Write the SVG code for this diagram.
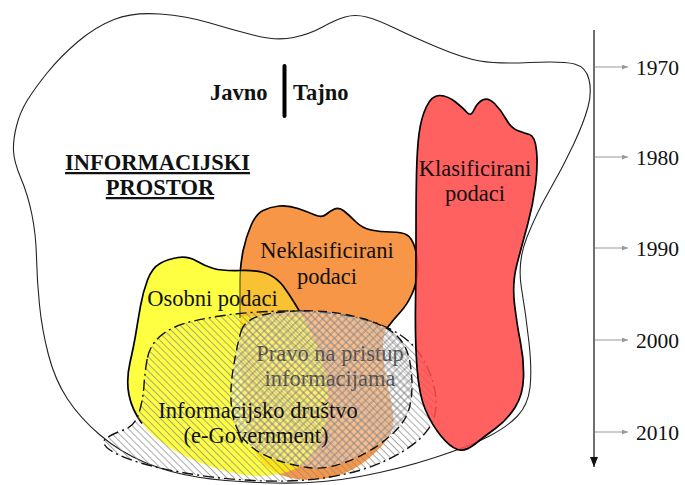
<svg xmlns="http://www.w3.org/2000/svg" width="685" height="485" viewBox="0 0 685 485">
<style>
  .lbl{font-family:"Liberation Serif","Times New Roman",serif;font-size:22.5px;fill:#111;text-anchor:middle}
  .hd{font-family:"Liberation Serif","Times New Roman",serif;font-size:22.5px;font-weight:bold;fill:#111}
  .yr{font-family:"Liberation Serif","Times New Roman",serif;font-size:21.5px;fill:#111}
  .edge{fill:none;stroke:#000;stroke-width:1.7;stroke-linejoin:round}
  .tick{stroke:#9a9a9a;stroke-width:1.2}
</style>
<defs>
  <pattern id="diag" patternUnits="userSpaceOnUse" width="5" height="5" patternTransform="rotate(-45)">
    <line x1="2.5" y1="0" x2="2.5" y2="5" stroke="#8c8c8c" stroke-width="0.75"/>
  </pattern>
  <pattern id="cross" patternUnits="userSpaceOnUse" width="5.5" height="5.5" patternTransform="rotate(45)">
    <line x1="2.75" y1="0" x2="2.75" y2="5.5" stroke="#7a7a7a" stroke-width="0.75"/>
    <line x1="0" y1="2.75" x2="5.5" y2="2.75" stroke="#7a7a7a" stroke-width="0.75"/>
  </pattern>
  <path id="orangeShape" d="M240,330 Q240,300 240,282.5 Q240,265 243,251 Q246,237 251,225.5 Q256,214 263,210.5 Q270,207 279,206 Q288,205 298,208.5 Q308,212 315,215 Q322,218 326,214.5 Q330,211 334.5,209 Q339,207 344,211 Q349,215 355.5,221.5 Q362,228 371,230 Q380,232 391,232 Q402,232 407,235 Q412,238 415,248 Q418,258 417.5,270.5 Q417,283 412,294 Q407,305 400,312.5 Q393,320 387.5,327.5 Q382,335 383,352.5 Q384,370 388,387.5 Q392,405 393.5,416.5 Q395,428 386.5,440 Q378,452 361.5,464 Q345,476 322.5,479 Q300,482 281,475 Q262,468 253.5,449 Q245,430 242.5,395 Q240,360 240,330 Z"/>
  <path id="yellowShape" d="M136,332.5 Q138,320 140.5,306 Q143,292 147.5,280 Q152,268 160,263.5 Q168,259 178,257.5 Q188,256 196.5,261 Q205,266 213.5,268.5 Q222,271 241,270.5 Q260,270 269,274.5 Q278,279 283.5,286.5 Q289,294 294.5,303 Q300,312 309,328.5 Q318,345 324,367.5 Q330,390 328,410 Q326,430 318,446 Q310,462 295,469 Q280,476 260,476 Q240,476 215,468 Q190,460 171,448.5 Q152,437 142,423.5 Q132,410 129,395 Q126,380 130,362.5 Q134,345 136,332.5 Z"/>
  <path id="pravoShape" d="M241,331.5 Q245,318 267.5,314 Q290,310 315,311 Q340,312 362.5,318.5 Q385,325 396,335 Q407,345 410,362.5 Q413,380 411.5,396 Q410,412 402.5,422.5 Q395,433 380,444 Q365,455 345,462.5 Q325,470 307.5,467.5 Q290,465 272.5,458.5 Q255,452 245.5,441 Q236,432 232.5,413.5 Q229,395 233,370 Q237,345 241,331.5 Z"/>
  <clipPath id="yClip"><use href="#yellowShape"/></clipPath>
  <clipPath id="topClip"><rect x="0" y="0" width="685" height="316"/></clipPath>
  <marker id="ahMain" markerUnits="userSpaceOnUse" markerWidth="10" markerHeight="8" refX="10" refY="4" orient="auto">
    <path d="M0,0 L10,4 L0,8 Z" fill="#111"/>
  </marker>
  <marker id="ahTick" markerUnits="userSpaceOnUse" markerWidth="6" markerHeight="5" refX="6" refY="2.5" orient="auto">
    <path d="M0,0 L6,2.5 L0,5 Z" fill="#9a9a9a"/>
  </marker>
</defs>

<g id="informacijski-prostor">
  <path d="M16.5,126 Q20,112 27.5,100 Q35,88 47.5,72.5 Q60,57 77.5,42 Q95,27 114,19.5 Q133,12 160,14 Q187,16 210,23 Q233,30 255,35.5 Q277,41 293.5,37.5 Q310,34 322.5,27 Q335,20 345,17 Q355,14 366.5,17 Q378,20 395.5,28.5 Q413,37 438,47.5 Q463,58 480,61 Q497,64 530,62.5 Q563,61 574.5,64 Q586,67 589,79.5 Q592,92 588,107 Q584,122 573.5,144.5 Q563,167 550,189.5 Q537,212 527,237 Q517,262 521.5,288.5 Q526,315 529,342.5 Q532,370 530,387.5 Q528,405 517.5,416 Q507,427 488.5,436.5 Q470,446 435,457.5 Q400,469 360,476.5 Q320,484 275,483 Q230,482 200,477.5 Q170,473 145,462.5 Q120,452 100,435 Q80,418 67.5,399 Q55,380 48.5,355 Q42,330 39.5,305 Q37,280 36.5,257.5 Q36,235 32,215 Q28,195 21,178.5 Q14,162 13.5,151 Q13,140 16.5,126 Z" fill="#fff" stroke="#222" stroke-width="1.1"/>
  <text class="hd" x="65" y="170" text-decoration="underline">INFORMACIJSKI</text>
  <text class="hd" x="160" y="195" text-anchor="middle" text-decoration="underline">PROSTOR</text>
  <text class="hd" x="210" y="100">Javno</text>
  <line x1="284.5" y1="66" x2="284.5" y2="116" stroke="#000" stroke-width="4" stroke-linecap="round"/>
  <text class="hd" x="293" y="100">Tajno</text>
</g>

<g id="neklasificirani-podaci">
  <use href="#orangeShape" fill="#f79646"/>
  <path class="edge" d="M240.3,271 Q241,262 243,251 Q246,237 251,225.5 Q256,214 263,210.5 Q270,207 279,206 Q288,205 298,208.5 Q308,212 315,215 Q322,218 326,214.5 Q330,211 334.5,209 Q339,207 344,211 Q349,215 355.5,221.5 Q362,228 371,230 Q380,232 391,232 Q402,232 407,235 Q412,238 415,248 Q418,258 417.5,270.5 Q417,283 412,294 Q407,305 400,312.5 Q393,320 387.5,327.5"/>
  <text class="lbl" x="327" y="258">Neklasificirani</text>
  <text class="lbl" x="327" y="284">podaci</text>
</g>

<g id="osobni-podaci">
  <use href="#yellowShape" fill="#ffff00" fill-opacity="0.74"/>
  <g clip-path="url(#topClip)">
    <use href="#orangeShape" fill="#f8c232" clip-path="url(#yClip)"/>
  </g>
  <path d="M240,318 Q240,300 240,282.5 L240.3,271" fill="none" stroke="#6e6a1c" stroke-width="1.4"/>
  <path class="edge" d="M142,423.5 Q132,410 129,395 Q126,380 130,362.5 Q134,345 136,332.5 Q138,320 140.5,306 Q143,292 147.5,280 Q152,268 160,263.5 Q168,259 178,257.5 Q188,256 196.5,261 Q205,266 213.5,268.5 Q222,271 241,270.5 Q260,270 269,274.5 Q278,279 283.5,286.5 Q289,294 294.5,303 Q297.5,308 300,312"/>
  <text class="lbl" x="212.5" y="306">Osobni podaci</text>
</g>

<g id="informacijsko-drustvo">
  <path d="M147.5,357.5 Q150,345 161,335.5 Q172,326 193.5,321 Q215,316 240,313.5 Q265,311 292.5,311 Q320,311 346,315.5 Q372,320 390,329 Q408,338 418,351.5 Q428,365 433,382.5 Q438,400 435,414 Q432,428 418.5,440 Q405,452 382.5,462 Q360,472 330,477 Q300,482 265,481 Q230,480 197.5,475 Q165,470 142.5,463.5 Q120,457 110,450 Q100,443 106,438.5 Q112,434 123.5,430 Q135,426 139,413 Q143,400 144,385 Q145,370 147.5,357.5 Z" fill="url(#diag)" stroke="#111" stroke-width="1.4" stroke-dasharray="11,4,2,4"/>
</g>

<g id="pravo-na-pristup">
  <use href="#pravoShape" fill="#fff" fill-opacity="0.38"/>
  <text class="lbl" x="330" y="361" style="fill:#4a4a4a">Pravo na pristup</text>
  <text class="lbl" x="330" y="386" style="fill:#4a4a4a">informacijama</text>
  <use href="#pravoShape" fill="url(#cross)" stroke="#111" stroke-width="1.4" stroke-dasharray="9,5"/>
</g>

<g id="informacijsko-drustvo-label">
  <text class="lbl" x="258" y="418">Informacijsko društvo</text>
  <text class="lbl" x="256" y="443">(e-Government)</text>
</g>

<g id="klasificirani-podaci">
  <path d="M416.5,175 Q417,150 419,134 Q421,118 426.5,106.5 Q432,95 440,95.5 Q448,96 455.5,102 Q463,108 467,112.5 Q471,117 474,110 Q477,103 482.5,100 Q488,97 494.5,103.5 Q501,110 506,119 Q511,128 517.5,130.5 Q524,133 529.5,134.5 Q535,136 536.5,150.5 Q538,165 535.5,185 Q533,205 527.5,225 Q522,245 517,264 Q512,283 514.5,304 Q517,325 520.5,342.5 Q524,360 523.5,377.5 Q523,395 515,407.5 Q507,420 496,428 Q485,436 475,444 Q465,452 457.5,449.5 Q450,447 441,436 Q432,425 425.5,410 Q419,395 417,367.5 Q415,340 415.5,305 Q416,270 416,235 Q416,200 416.5,175 Z" fill="#ff4a4a" fill-opacity="0.88" stroke="#000" stroke-width="1.7"/>
  <text class="lbl" x="475" y="176">Klasificirani</text>
  <text class="lbl" x="475" y="201">podaci</text>
</g>

<g id="timeline">
  <line x1="594" y1="30" x2="594" y2="467" stroke="#333" stroke-width="1.4" marker-end="url(#ahMain)"/>
  <line class="tick" x1="595" y1="67" x2="628" y2="67" marker-end="url(#ahTick)"/>
  <line class="tick" x1="595" y1="157" x2="628" y2="157" marker-end="url(#ahTick)"/>
  <line class="tick" x1="595" y1="248" x2="628" y2="248" marker-end="url(#ahTick)"/>
  <line class="tick" x1="595" y1="340" x2="628" y2="340" marker-end="url(#ahTick)"/>
  <line class="tick" x1="595" y1="432" x2="628" y2="432" marker-end="url(#ahTick)"/>
  <text class="yr" x="636" y="75">1970</text>
  <text class="yr" x="636" y="165">1980</text>
  <text class="yr" x="636" y="256">1990</text>
  <text class="yr" x="636" y="348">2000</text>
  <text class="yr" x="636" y="440">2010</text>
</g>
</svg>
